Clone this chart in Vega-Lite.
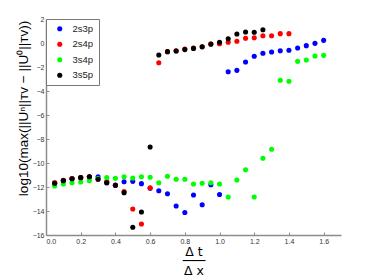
{
  "$schema": "https://vega.github.io/schema/vega-lite/v6.json",
  "width": 295,
  "height": 216,
  "autosize": {"type": "none"},
  "padding": {"left": 46, "top": 19, "right": 33, "bottom": 44},
  "background": "white",
  "config": {
    "view": {"stroke": null},
    "font": "Liberation Sans"
  },
  "datasets": {
    "pts": [
      {"s": "2s3p", "x": 0.05, "y": -11.69}, {"s": "2s3p", "x": 0.1, "y": -11.47}, {"s": "2s3p", "x": 0.15, "y": -11.31},
      {"s": "2s3p", "x": 0.2, "y": -11.22}, {"s": "2s3p", "x": 0.25, "y": -11.14}, {"s": "2s3p", "x": 0.3, "y": -11.14},
      {"s": "2s3p", "x": 0.35, "y": -11.64}, {"s": "2s3p", "x": 0.4, "y": -11.86}, {"s": "2s3p", "x": 0.45, "y": -11.56},
      {"s": "2s3p", "x": 0.5, "y": -11.53}, {"s": "2s3p", "x": 0.55, "y": -11.72}, {"s": "2s3p", "x": 0.6, "y": -12.11},
      {"s": "2s3p", "x": 0.65, "y": -12.31}, {"s": "2s3p", "x": 0.7, "y": -12.56}, {"s": "2s3p", "x": 0.75, "y": -13.58},
      {"s": "2s3p", "x": 0.8, "y": -14.12}, {"s": "2s3p", "x": 0.85, "y": -12.67}, {"s": "2s3p", "x": 0.9, "y": -13.48},
      {"s": "2s3p", "x": 0.95, "y": -11.81}, {"s": "2s3p", "x": 1.0, "y": -12.62}, {"s": "2s3p", "x": 1.05, "y": -2.39},
      {"s": "2s3p", "x": 1.1, "y": -2.28}, {"s": "2s3p", "x": 1.15, "y": -1.58}, {"s": "2s3p", "x": 1.2, "y": -1.11},
      {"s": "2s3p", "x": 1.25, "y": -0.86}, {"s": "2s3p", "x": 1.3, "y": -0.75}, {"s": "2s3p", "x": 1.35, "y": -0.64},
      {"s": "2s3p", "x": 1.4, "y": -0.61}, {"s": "2s3p", "x": 1.45, "y": -0.42}, {"s": "2s3p", "x": 1.5, "y": -0.22},
      {"s": "2s3p", "x": 1.55, "y": -0.03}, {"s": "2s3p", "x": 1.6, "y": 0.22},
      {"s": "2s4p", "x": 0.05, "y": -11.62}, {"s": "2s4p", "x": 0.1, "y": -11.45}, {"s": "2s4p", "x": 0.15, "y": -11.3},
      {"s": "2s4p", "x": 0.2, "y": -11.22}, {"s": "2s4p", "x": 0.25, "y": -11.15}, {"s": "2s4p", "x": 0.3, "y": -11.34},
      {"s": "2s4p", "x": 0.35, "y": -11.55}, {"s": "2s4p", "x": 0.4, "y": -11.84}, {"s": "2s4p", "x": 0.45, "y": -12.38},
      {"s": "2s4p", "x": 0.5, "y": -13.83}, {"s": "2s4p", "x": 0.55, "y": -15.08}, {"s": "2s4p", "x": 0.6, "y": -12.06},
      {"s": "2s4p", "x": 0.65, "y": -1.64}, {"s": "2s4p", "x": 0.7, "y": -0.72}, {"s": "2s4p", "x": 0.75, "y": -0.64},
      {"s": "2s4p", "x": 0.8, "y": -0.5}, {"s": "2s4p", "x": 0.85, "y": -0.42}, {"s": "2s4p", "x": 0.9, "y": -0.31},
      {"s": "2s4p", "x": 0.95, "y": -0.06}, {"s": "2s4p", "x": 1.0, "y": -0.06}, {"s": "2s4p", "x": 1.05, "y": 0.06},
      {"s": "2s4p", "x": 1.1, "y": 0.14}, {"s": "2s4p", "x": 1.15, "y": 0.39}, {"s": "2s4p", "x": 1.2, "y": 0.44},
      {"s": "2s4p", "x": 1.25, "y": 0.61}, {"s": "2s4p", "x": 1.3, "y": 0.61}, {"s": "2s4p", "x": 1.35, "y": 0.78},
      {"s": "2s4p", "x": 1.4, "y": 0.78},
      {"s": "3s4p", "x": 0.05, "y": -11.92}, {"s": "3s4p", "x": 0.1, "y": -11.75}, {"s": "3s4p", "x": 0.15, "y": -11.64},
      {"s": "3s4p", "x": 0.2, "y": -11.58}, {"s": "3s4p", "x": 0.25, "y": -11.47}, {"s": "3s4p", "x": 0.3, "y": -11.3},
      {"s": "3s4p", "x": 0.35, "y": -11.22}, {"s": "3s4p", "x": 0.4, "y": -11.28}, {"s": "3s4p", "x": 0.45, "y": -11.14},
      {"s": "3s4p", "x": 0.5, "y": -11.25}, {"s": "3s4p", "x": 0.55, "y": -11.14}, {"s": "3s4p", "x": 0.6, "y": -11.19},
      {"s": "3s4p", "x": 0.65, "y": -11.64}, {"s": "3s4p", "x": 0.7, "y": -11.11}, {"s": "3s4p", "x": 0.75, "y": -11.36},
      {"s": "3s4p", "x": 0.8, "y": -11.36}, {"s": "3s4p", "x": 0.85, "y": -11.75}, {"s": "3s4p", "x": 0.9, "y": -11.69},
      {"s": "3s4p", "x": 0.95, "y": -11.64}, {"s": "3s4p", "x": 1.0, "y": -11.75}, {"s": "3s4p", "x": 1.05, "y": -12.83},
      {"s": "3s4p", "x": 1.1, "y": -11.42}, {"s": "3s4p", "x": 1.15, "y": -10.56}, {"s": "3s4p", "x": 1.2, "y": -12.83},
      {"s": "3s4p", "x": 1.25, "y": -9.61}, {"s": "3s4p", "x": 1.3, "y": -8.86}, {"s": "3s4p", "x": 1.35, "y": -3.11},
      {"s": "3s4p", "x": 1.4, "y": -3.19}, {"s": "3s4p", "x": 1.45, "y": -1.53}, {"s": "3s4p", "x": 1.5, "y": -1.42},
      {"s": "3s4p", "x": 1.55, "y": -1.08}, {"s": "3s4p", "x": 1.6, "y": -1.03},
      {"s": "3s5p", "x": 0.05, "y": -11.69}, {"s": "3s5p", "x": 0.1, "y": -11.47}, {"s": "3s5p", "x": 0.15, "y": -11.31},
      {"s": "3s5p", "x": 0.2, "y": -11.22}, {"s": "3s5p", "x": 0.25, "y": -11.14}, {"s": "3s5p", "x": 0.3, "y": -11.36},
      {"s": "3s5p", "x": 0.35, "y": -11.64}, {"s": "3s5p", "x": 0.4, "y": -11.86}, {"s": "3s5p", "x": 0.45, "y": -12.47},
      {"s": "3s5p", "x": 0.5, "y": -15.36}, {"s": "3s5p", "x": 0.55, "y": -14.08}, {"s": "3s5p", "x": 0.6, "y": -8.67},
      {"s": "3s5p", "x": 0.65, "y": -1.0}, {"s": "3s5p", "x": 0.7, "y": -0.72}, {"s": "3s5p", "x": 0.75, "y": -0.67},
      {"s": "3s5p", "x": 0.8, "y": -0.55}, {"s": "3s5p", "x": 0.85, "y": -0.45}, {"s": "3s5p", "x": 0.9, "y": -0.31},
      {"s": "3s5p", "x": 0.95, "y": -0.11}, {"s": "3s5p", "x": 1.0, "y": 0.06}, {"s": "3s5p", "x": 1.05, "y": 0.36},
      {"s": "3s5p", "x": 1.1, "y": 0.75}, {"s": "3s5p", "x": 1.15, "y": 0.92}, {"s": "3s5p", "x": 1.2, "y": 0.89},
      {"s": "3s5p", "x": 1.25, "y": 1.11}
    ]
  },
  "data": {"name": "pts"},
  "mark": {"type": "circle", "size": 26, "opacity": 1},
  "encoding": {
    "x": {
      "field": "x", "type": "quantitative",
      "scale": {"domain": [0, 1.7], "nice": false, "zero": false},
      "axis": {
        "values": [0, 0.2, 0.4, 0.6, 0.8, 1, 1.2, 1.4, 1.6],
        "grid": false, "domainColor": "#8c8c8c", "domainWidth": 1.5,
        "tickColor": "#8c8c8c", "tickSize": -3, "labelFontSize": 7, "labelColor": "#333333",
        "labelPadding": 5, "labelFont": "Liberation Sans",
        "title": ["Δ t", "───", "Δ x"], "titleFontSize": 12.5, "titleFontWeight": "normal",
        "titleFont": "DejaVu Sans", "titleLineHeight": 9.5, "titlePadding": 1, "titleColor": "#000000"
      }
    },
    "y": {
      "field": "y", "type": "quantitative",
      "scale": {"domain": [-16, 2], "nice": false, "zero": false},
      "axis": {
        "values": [-16, -14, -12, -10, -8, -6, -4, -2, 0, 2],
        "grid": false, "domainColor": "#8c8c8c", "domainWidth": 1.5,
        "tickColor": "#8c8c8c", "tickSize": -3, "labelFontSize": 7, "labelColor": "#333333",
        "labelPadding": 5, "labelFont": "Liberation Sans",
        "title": "log10(max(||Uⁿ||ᴛᴠ − ||U⁰||ᴛᴠ))", "titleFontSize": 13.5, "titleFontWeight": "normal",
        "titleFont": "Liberation Sans", "titleColor": "#000000",
        "titleX": -23, "titleY": 89, "titleAlign": "center", "titleBaseline": "middle", "titleAngle": -90
      }
    },
    "color": {
      "field": "s", "type": "nominal",
      "scale": {"domain": ["2s3p", "2s4p", "3s4p", "3s5p"], "range": ["#0000ff", "#ff0000", "#00ff00", "#000000"]},
      "legend": {
        "title": null, "orient": "top-left", "offset": 0,
        "fillColor": "white", "strokeColor": "#777777", "padding": 5,
        "symbolType": "circle", "symbolSize": 26, "symbolStrokeWidth": 0,
        "labelFontSize": 9.5, "labelFont": "Liberation Sans", "labelColor": "#222222",
        "rowPadding": 4.5, "labelOffset": 8, "symbolOffset": 4
      }
    }
  }
}
